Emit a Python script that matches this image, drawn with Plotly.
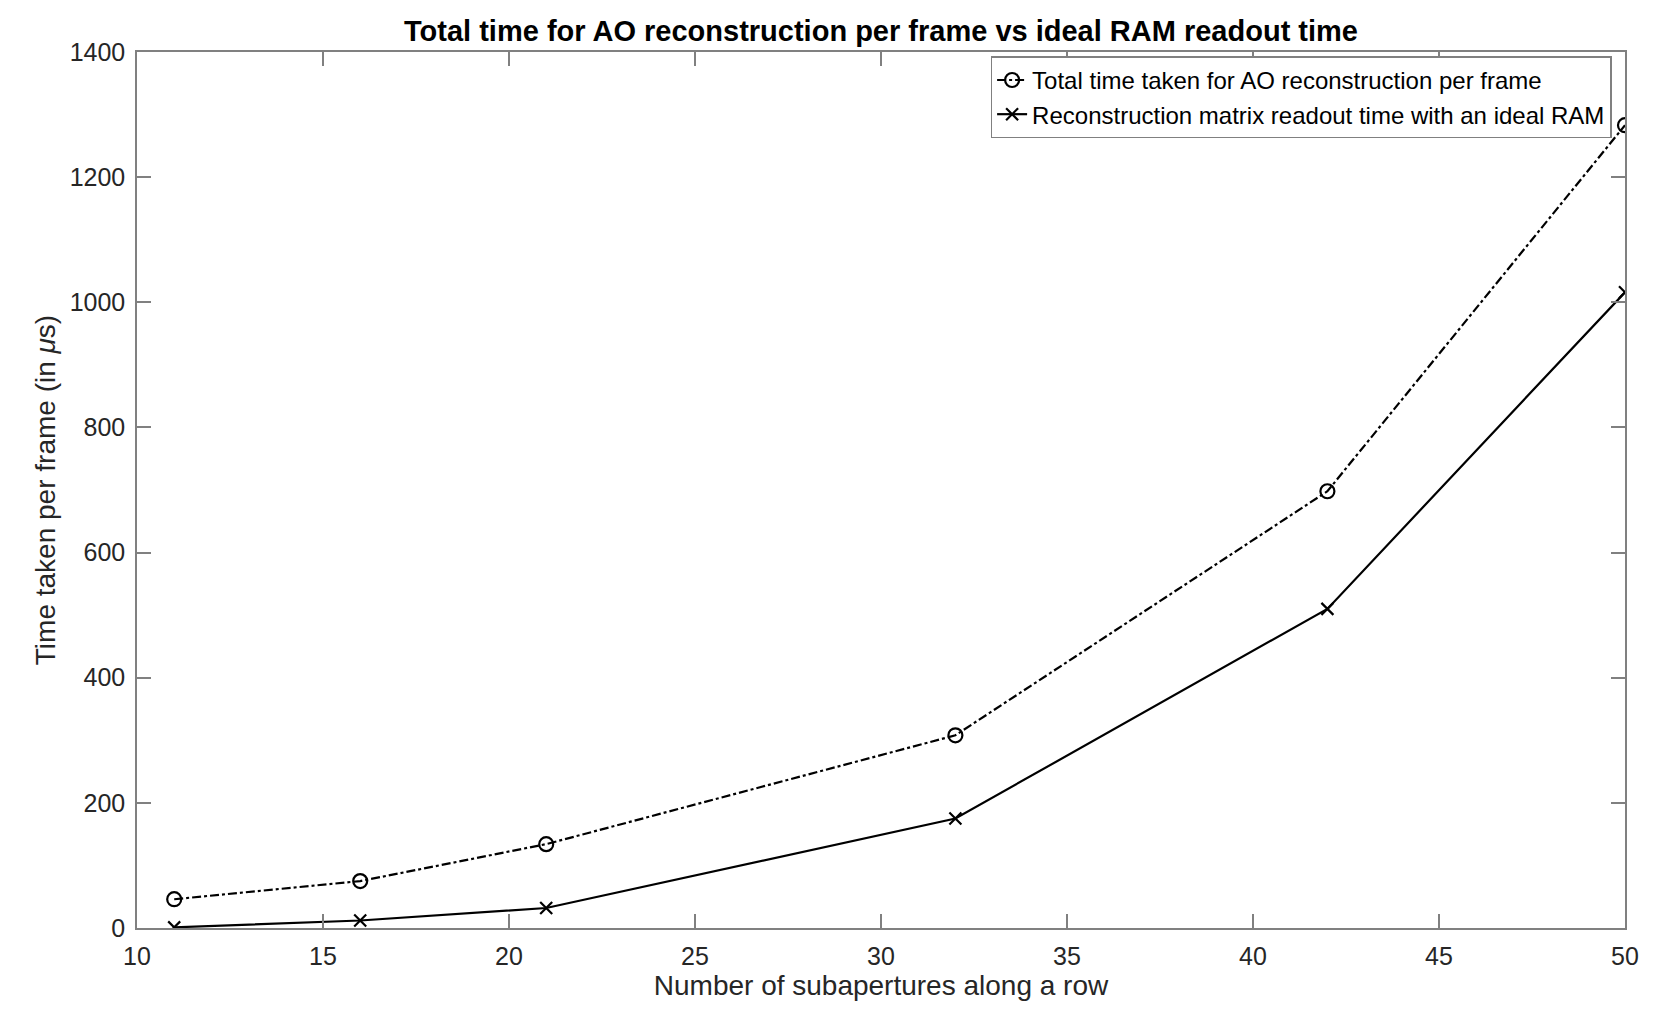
import plotly.graph_objects as go

subapertures = [11, 16, 21, 32, 42, 50]
total_time = [46, 75, 134, 308, 698, 1283]
readout_time = [1, 12, 32, 175, 510, 1016]

x_ticks = [10, 15, 20, 25, 30, 35, 40, 45, 50]
y_ticks = [0, 200, 400, 600, 800, 1000, 1200, 1400]

FONT = "Liberation Sans, Arial, sans-serif"
AXIS_GRAY = "rgb(128,128,128)"
TEXT = "rgb(38,38,38)"

fig = go.Figure()
fig.add_trace(go.Scatter(
    x=subapertures, y=total_time, mode="lines+markers",
    name="Total time taken for AO reconstruction per frame",
    line=dict(color="black", width=2.2, dash="dashdot"),
    marker=dict(symbol="circle-open", size=14, color="black", line=dict(width=2.2)),
))
fig.add_trace(go.Scatter(
    x=subapertures, y=readout_time, mode="lines+markers",
    name="Reconstruction matrix readout time with an ideal RAM",
    line=dict(color="black", width=2.2),
    marker=dict(symbol="x-thin-open", size=12, color="black", line=dict(width=2.2, color="black")),
))

axis_common = dict(
    showline=True, linecolor=AXIS_GRAY, linewidth=1.5, mirror="allticks",
    ticks="inside", ticklen=14, tickcolor=AXIS_GRAY, tickwidth=1.5,
    showgrid=False, zeroline=False, ticklabelstandoff=5,
    tickfont=dict(family=FONT, size=25, color=TEXT),
)

fig.update_layout(
    width=1661, height=1009,
    paper_bgcolor="white", plot_bgcolor="white",
    margin=dict(l=129, r=44, t=44, b=89),
    title=dict(
        text="<b>Total time for AO reconstruction per frame vs ideal RAM readout time</b>",
        x=0.5, xref="paper", xanchor="center", y=0.977, yanchor="middle",
        font=dict(family=FONT, size=29, color="black"),
    ),
    xaxis=dict(
        range=[10, 50], tickvals=x_ticks,
        title=dict(text="Number of subapertures along a row", standoff=0,
                   font=dict(family=FONT, size=28, color=TEXT)),
        **axis_common,
    ),
    yaxis=dict(
        range=[0, 1400], tickvals=y_ticks,
        title=dict(text="Time taken per frame (in <i>μ</i>s)", standoff=6,
                   font=dict(family=FONT, size=28, color=TEXT)),
        **axis_common,
    ),
    showlegend=True,
    legend=dict(
        x=0.991, y=0.995, xanchor="right", yanchor="top",
        bgcolor="white", bordercolor=AXIS_GRAY, borderwidth=1.5,
        font=dict(family=FONT, size=24, color="black"),
        tracegroupgap=0, itemwidth=30,
    ),
)

fig.write_html("out.html")
